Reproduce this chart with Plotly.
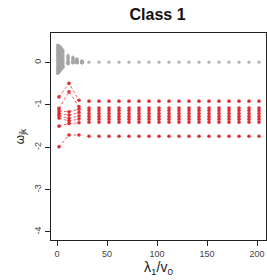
import plotly.graph_objects as go

# ---- data ----
red_x = [2, 12, 22, 32, 42, 52, 62, 72, 82, 92, 102, 112, 122, 132, 142, 152, 162, 172, 182, 192, 202]

red_s1 = [-0.81, -0.49, -0.89, -0.91, -0.91, -0.91, -0.91, -0.91, -0.91, -0.91, -0.91, -0.91, -0.91, -0.91, -0.91, -0.91, -0.91, -0.91, -0.91, -0.91, -0.91]
red_s2 = [-1.08, -0.69, -1.04, -1.07, -1.07, -1.07, -1.07, -1.07, -1.07, -1.07, -1.07, -1.07, -1.07, -1.07, -1.07, -1.07, -1.07, -1.07, -1.07, -1.07, -1.07]
red_s3 = [-1.14, -1.16, -1.10, -1.13, -1.13, -1.13, -1.13, -1.13, -1.13, -1.13, -1.13, -1.13, -1.13, -1.13, -1.13, -1.13, -1.13, -1.13, -1.13, -1.13, -1.13]
red_s4 = [-1.20, -1.24, -1.18, -1.20, -1.20, -1.20, -1.20, -1.20, -1.20, -1.20, -1.20, -1.20, -1.20, -1.20, -1.20, -1.20, -1.20, -1.20, -1.20, -1.20, -1.20]
red_s5 = [-1.25, -1.32, -1.26, -1.27, -1.27, -1.27, -1.27, -1.27, -1.27, -1.27, -1.27, -1.27, -1.27, -1.27, -1.27, -1.27, -1.27, -1.27, -1.27, -1.27, -1.27]
red_s6 = [-1.31, -1.38, -1.33, -1.34, -1.34, -1.34, -1.34, -1.34, -1.34, -1.34, -1.34, -1.34, -1.34, -1.34, -1.34, -1.34, -1.34, -1.34, -1.34, -1.34, -1.34]
red_s7 = [-1.50, -1.44, -1.42, -1.41, -1.41, -1.41, -1.41, -1.41, -1.41, -1.41, -1.41, -1.41, -1.41, -1.41, -1.41, -1.41, -1.41, -1.41, -1.41, -1.41, -1.41]
red_s8 = [-1.99, -1.71, -1.71, -1.74, -1.74, -1.74, -1.74, -1.74, -1.74, -1.74, -1.74, -1.74, -1.74, -1.74, -1.74, -1.74, -1.74, -1.74, -1.74, -1.74, -1.74]

gray_x_early = [0.5, 1, 1.5, 2, 2.5, 3, 3.5, 4, 5, 6, 11, 16, 20, 25]
gray_e1 = [0.41, 0.41, 0.40, 0.39, 0.38, 0.37, 0.36, 0.35, 0.32, 0.29, 0.18, 0.13, 0.09, 0.04]
gray_e2 = [0.35, 0.35, 0.34, 0.33, 0.33, 0.32, 0.31, 0.30, 0.27, 0.25, 0.15, 0.11, 0.08, 0.03]
gray_e3 = [0.29, 0.29, 0.28, 0.28, 0.27, 0.26, 0.26, 0.25, 0.23, 0.21, 0.13, 0.09, 0.06, 0.03]
gray_e4 = [0.23, 0.23, 0.22, 0.22, 0.21, 0.21, 0.20, 0.20, 0.18, 0.17, 0.11, 0.07, 0.05, 0.02]
gray_e5 = [0.17, 0.17, 0.16, 0.16, 0.16, 0.15, 0.15, 0.15, 0.14, 0.13, 0.08, 0.06, 0.04, 0.02]
gray_e6 = [0.11, 0.11, 0.11, 0.10, 0.10, 0.10, 0.10, 0.09, 0.09, 0.08, 0.06, 0.04, 0.03, 0.01]
gray_e7 = [0.05, 0.05, 0.05, 0.05, 0.04, 0.04, 0.04, 0.04, 0.04, 0.04, 0.03, 0.02, 0.02, 0.01]
gray_e8 = [-0.01, -0.01, -0.01, -0.01, -0.01, 0.00, 0.00, 0.00, 0.00, 0.00, 0.01, 0.01, 0.01, 0.00]
gray_e9 = [-0.07, -0.07, -0.07, -0.06, -0.06, -0.06, -0.05, -0.05, -0.04, -0.03, 0.00, 0.00, 0.00, 0.00]
gray_e10 = [-0.13, -0.13, -0.12, -0.12, -0.11, -0.11, -0.10, -0.09, -0.08, -0.07, -0.01, 0.00, 0.00, 0.00]
gray_e11 = [-0.19, -0.19, -0.18, -0.17, -0.16, -0.15, -0.14, -0.13, -0.11, -0.09, -0.02, 0.00, 0.00, 0.00]
gray_e12 = [-0.25, -0.25, -0.24, -0.22, -0.21, -0.19, -0.17, -0.16, -0.13, -0.11, -0.03, 0.00, 0.00, 0.00]

gray_x_late = [32, 42, 52, 62, 72, 82, 92, 102, 112, 122, 132, 142, 152, 162, 172, 182, 192, 202]
gray_late = [0.01, 0.01, 0.01, 0.01, 0.01, 0.01, 0.01, 0.01, 0.01, 0.01, 0.01, 0.01, 0.01, 0.01, 0.01, 0.01, 0.01, 0.01]

x_ticks = [0, 50, 100, 150, 200]
y_ticks = [0, -1, -2, -3, -4]

RED = "rgba(222,26,32,0.9)"
RED_LINE = "rgba(222,26,32,0.75)"
GRAY = "rgba(165,165,165,0.85)"

fig = go.Figure()

for g in [gray_e1, gray_e2, gray_e3, gray_e4, gray_e5, gray_e6, gray_e7, gray_e8,
          gray_e9, gray_e10, gray_e11, gray_e12]:
    fig.add_trace(go.Scatter(x=gray_x_early, y=g, mode="markers",
                             marker=dict(color=GRAY, size=3.2), showlegend=False))
fig.add_trace(go.Scatter(x=gray_x_late, y=gray_late, mode="markers",
                         marker=dict(color=GRAY, size=3.2), showlegend=False))

for s in [red_s1, red_s2, red_s3, red_s4, red_s5, red_s6, red_s7, red_s8]:
    fig.add_trace(go.Scatter(x=red_x[:3], y=s[:3], mode="lines",
                             line=dict(color=RED_LINE, width=0.9, dash="3px,2px"), showlegend=False))
    fig.add_trace(go.Scatter(x=red_x, y=s, mode="markers",
                             marker=dict(color=RED, size=3.6), showlegend=False))

fig.update_layout(
    width=267, height=280,
    margin=dict(l=51, r=1, t=33, b=40),
    paper_bgcolor="white", plot_bgcolor="white",
    font=dict(family="Liberation Sans, Arial, sans-serif", color="#333"),
    title=dict(text="<b>Class 1</b>", x=0.59, xanchor="center", y=0.947, yanchor="middle",
               font=dict(size=16, color="#111")),
)
fig.update_xaxes(
    range=[-6, 209], tickvals=x_ticks, ticktext=[str(v) for v in x_ticks],
    showgrid=False, zeroline=False, showline=True, linecolor="#222", linewidth=1,
    mirror=True, ticks="outside", ticklen=5, tickcolor="#222",
    tickfont=dict(size=9, color="#444"),
    title=dict(text="λ<sub>1</sub>/v<sub>0</sub>", font=dict(size=14, color="#222"), standoff=4),
)
fig.update_yaxes(
    range=[-4.19, 0.70], tickvals=y_ticks, ticktext=[str(v) for v in y_ticks],
    showgrid=False, zeroline=False, showline=True, linecolor="#222", linewidth=1,
    mirror=True, ticks="outside", ticklen=5, tickcolor="#222", tickangle=-90,
    tickfont=dict(size=9, color="#444"),
    title=dict(text="ω<sub>jk</sub>", font=dict(size=12, color="#222"), standoff=6),
)

fig.write_html("out.html", config={"displayModeBar": False},
               post_script="document.body.style.margin='0';")
